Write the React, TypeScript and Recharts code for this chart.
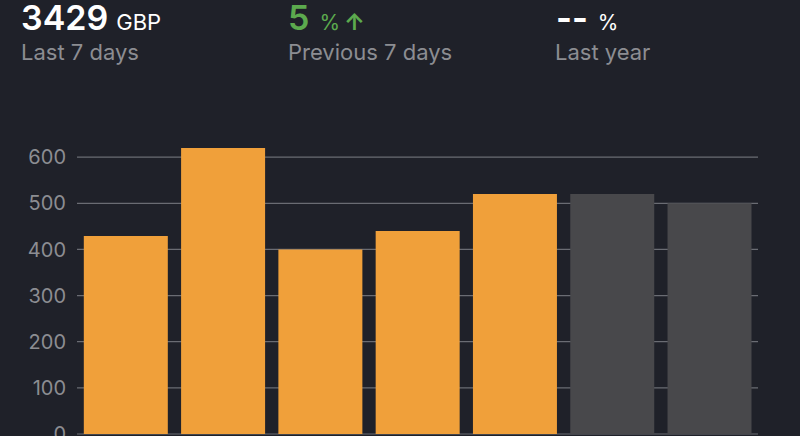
import React from "react";
import { BarChart, Bar, XAxis, YAxis, CartesianGrid, Cell } from "recharts";

const days = ["D1", "D2", "D3", "D4", "D5", "D6", "D7"];
const values = [429, 620, 400, 440, 520, 520, 500];
const isFuture = [false, false, false, false, false, true, true];
const yTicks = [0, 100, 200, 300, 400, 500, 600];

const data = days.map((d, i) => ({ day: d, value: values[i], future: isFuture[i] }));

const BG = "#1f2129";
const ORANGE = "#f0a03a";
const GREYBAR = "#48484b";
const GRID = "#6a6c73";
const LABEL = "#8c8d92";
const GREEN = "#5caa4e";
const FONT = "Inter, 'Noto Sans', sans-serif";

export default function App() {
  return (
    <div style={{ position: "fixed", left: 0, top: 0, width: 800, height: 436, background: BG, overflow: "hidden", fontFamily: FONT }}>
      <BarChart
        width={800}
        height={436}
        data={data}
        margin={{ top: 111, right: 42, bottom: 2, left: 0 }}
        barCategoryGap="7%"
      >
        <CartesianGrid vertical={false} stroke={GRID} strokeWidth={1.2} horizontalValues={yTicks} />
        <XAxis dataKey="day" hide />
        <YAxis
          width={77}
          domain={[0, 700]}
          ticks={yTicks}
          interval={0}
          axisLine={false}
          tickLine={false}
          tickMargin={5}
          tick={{ fill: LABEL, fontSize: 20, fontFamily: FONT }}
        />
        <Bar dataKey="value" isAnimationActive={false}>
          {data.map((d, i) => (
            <Cell key={i} fill={d.future ? GREYBAR : ORANGE} />
          ))}
        </Bar>
      </BarChart>
      <div style={{ position: "absolute", left: 21, top: 1, color: "#ffffff", whiteSpace: "nowrap", fontSize: 34, lineHeight: "34px" }}>
        <span style={{ fontWeight: 600 }}>3429</span>
        <span style={{ fontSize: 22, marginLeft: 8 }}>GBP</span>
      </div>
      <div style={{ position: "absolute", left: 21, top: 40, color: LABEL, fontSize: 22, lineHeight: "24px" }}>Last 7 days</div>
      <div style={{ position: "absolute", left: 288, top: 1, color: GREEN, whiteSpace: "nowrap", fontSize: 34, lineHeight: "34px" }}>
        <span style={{ fontWeight: 600 }}>5</span>
        <span style={{ fontSize: 21, marginLeft: 10 }}>%</span>
        <span style={{ fontSize: 23, marginLeft: 4, fontWeight: 700 }}>↑</span>
      </div>
      <div style={{ position: "absolute", left: 288, top: 40, color: LABEL, fontSize: 22, lineHeight: "24px" }}>Previous 7 days</div>
      <div style={{ position: "absolute", left: 556, top: 1, color: "#ffffff", whiteSpace: "nowrap", fontSize: 34, lineHeight: "34px" }}>
        <span style={{ fontWeight: 700 }}>--</span>
        <span style={{ fontSize: 21, marginLeft: 10 }}>%</span>
      </div>
      <div style={{ position: "absolute", left: 555, top: 40, color: LABEL, fontSize: 22, lineHeight: "24px" }}>Last year</div>
    </div>
  );
}
